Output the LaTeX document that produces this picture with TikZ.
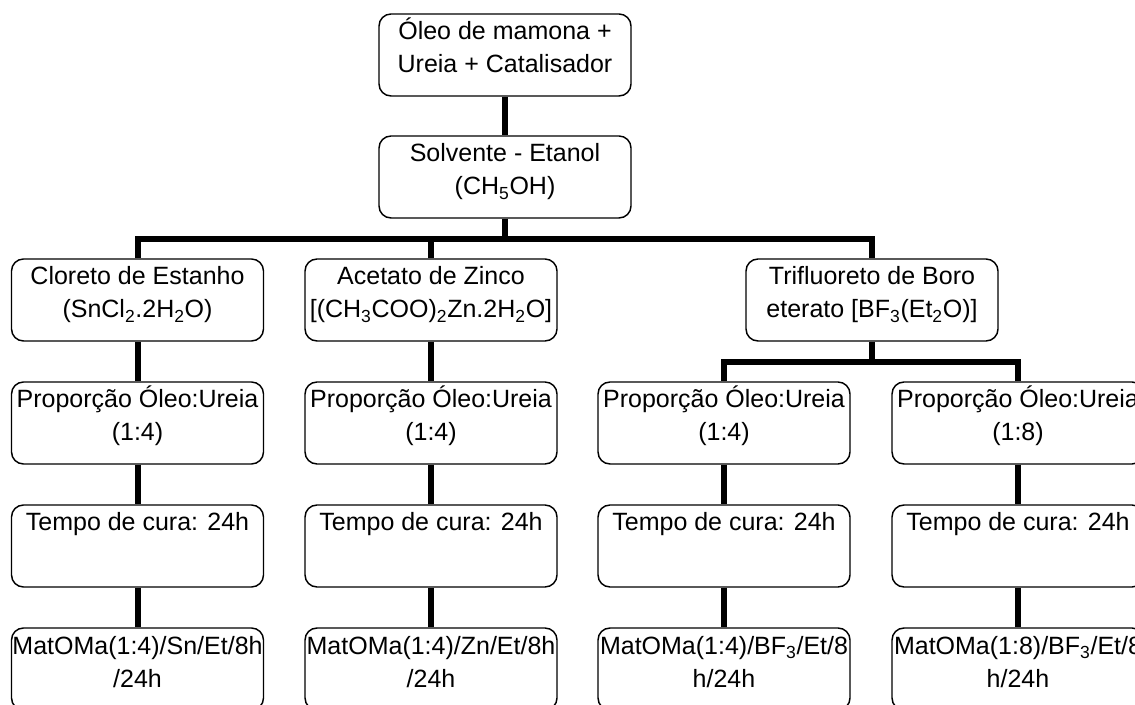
\documentclass[tikz,border=0pt]{standalone}
\usepackage{fontspec}
\setmainfont{Liberation Sans}
\usetikzlibrary{calc}

\newcommand{\boxtxt}[1]{\parbox[c][61.5pt][t]{189pt}{\centering\rule{0pt}{19.5pt}#1}}

\begin{document}
\begin{tikzpicture}[
  x=0.75pt,y=-0.75pt,
  stage/.style={draw=black,line width=1.1pt,rounded corners=9pt,inner sep=0pt,fill=white,
    font=\fontsize{18.75pt}{24.75pt}\selectfont},
  link/.style={line width=4.5pt}
]

\useasboundingbox (0,0) rectangle (1135,705);
\clip (0,0) rectangle (1135,705);

% top of the flow
\node[stage] (oil) at (505,55) {\boxtxt{Óleo de mamona +\\Ureia + Catalisador}};
\node[stage] (solv) at (505,177) {\boxtxt{Solvente - Etanol\\(CH\textsubscript{5}OH)}};

% catalysts
\node[stage] (sn) at (137.5,300) {\boxtxt{Cloreto de Estanho\\(SnCl\textsubscript{2}.2H\textsubscript{2}O)}};
\node[stage] (zn) at (431,300) {\boxtxt{Acetato de Zinco\\{[}(CH\textsubscript{3}COO)\textsubscript{2}Zn.2H\textsubscript{2}O{]}}};
\node[stage] (bf) at (872,300) {\boxtxt{Trifluoreto de Boro\\eterato [BF\textsubscript{3}(Et\textsubscript{2}O)]}};

% oil:urea ratio
\node[stage] (snratio) at (137.5,423) {\boxtxt{Proporção Óleo:Ureia\\(1:4)}};
\node[stage] (znratio) at (431,423) {\boxtxt{Proporção Óleo:Ureia\\(1:4)}};
\node[stage] (bfratioa) at (724,423) {\boxtxt{Proporção Óleo:Ureia\\(1:4)}};
\node[stage] (bfratiob) at (1018,423) {\boxtxt{Proporção Óleo:Ureia\\(1:8)}};

% curing time
\node[stage] (sncure) at (137.5,546) {\boxtxt{Tempo de cura: 24h}};
\node[stage] (zncure) at (431,546) {\boxtxt{Tempo de cura: 24h}};
\node[stage] (bfcurea) at (724,546) {\boxtxt{Tempo de cura: 24h}};
\node[stage] (bfcureb) at (1018,546) {\boxtxt{Tempo de cura: 24h}};

% samples
\node[stage] (snmat) at (137.5,669) {\boxtxt{MatOMa(1:4)/Sn/Et/8h\\/24h}};
\node[stage] (znmat) at (431,669) {\boxtxt{MatOMa(1:4)/Zn/Et/8h\\/24h}};
\node[stage] (bfmata) at (724,669) {\boxtxt{MatOMa(1:4)/BF\textsubscript{3}/Et/8\\h/24h}};
\node[stage] (bfmatb) at (1018,669) {\boxtxt{MatOMa(1:8)/BF\textsubscript{3}/Et/8\\h/24h}};

% connectors
\coordinate (bus) at (505,239);
\coordinate (busbf) at (872,362);

\draw[link] (oil) -- (solv);
\draw[link] (solv) -- (bus);
\draw[link] (sn) |- (bus) -| (bf);
\draw[link] (zn) -- (zn |- bus);
\draw[link] (bf) -- (busbf);
\draw[link] (bfratioa) |- (busbf) -| (bfratiob);

\draw[link] (sn) -- (snratio);
\draw[link] (snratio) -- (sncure);
\draw[link] (sncure) -- (snmat);
\draw[link] (zn) -- (znratio);
\draw[link] (znratio) -- (zncure);
\draw[link] (zncure) -- (znmat);
\draw[link] (bfratioa) -- (bfcurea);
\draw[link] (bfcurea) -- (bfmata);
\draw[link] (bfratiob) -- (bfcureb);
\draw[link] (bfcureb) -- (bfmatb);

\end{tikzpicture}
\end{document}
